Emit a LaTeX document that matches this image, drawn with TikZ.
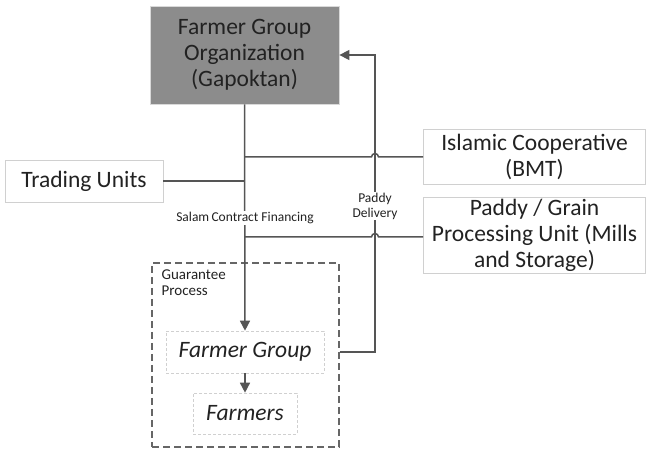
\documentclass[tikz,border=0pt]{standalone}
\usepackage{fontspec}
\setmainfont{Carlito}
\usetikzlibrary{arrows.meta,calc}
\definecolor{linec}{HTML}{555555}
\definecolor{boxc}{HTML}{D0D0D0}
\definecolor{gapfill}{HTML}{8C8C8C}
\definecolor{txt}{HTML}{222222}
\tikzset{
  x=1pt,y=-1pt,
  every node/.style={text=txt},
  plainbox/.style={draw=boxc,line width=0.8pt,fill=white,align=center,inner sep=2pt,
    font=\fontsize{23.5}{26}\selectfont},
  innerbox/.style={draw=boxc,densely dashed,line width=0.6pt,align=center,inner sep=2pt,
    font=\fontsize{23.5}{26}\selectfont\itshape},
  conn/.style={draw=linec,line width=1.5pt},
  arr/.style={conn,-{Triangle[length=10pt,width=10pt]}},
  smalllabel/.style={fill=white,inner sep=1pt,align=center,font=\fontsize{13.5}{15}\selectfont},
}
\begin{document}
\begin{tikzpicture}
\useasboundingbox (0,0) rectangle (646,449);
% boxes
\node[plainbox,draw=boxc!80,fill=gapfill,minimum width=189pt,minimum height=98pt] (gap) at (244.5,55)
  {Farmer Group\\Organization\\(Gapoktan)};
\node[plainbox,minimum width=158pt,minimum height=42pt] (trade) at (84,181) {Trading Units};
\node[plainbox,minimum width=222pt,minimum height=55pt] (bmt) at (534.5,156.5) {Islamic Cooperative\\(BMT)};
\node[plainbox,minimum width=222pt,minimum height=73pt] (mill) at (534.5,235.5)
  {Paddy / Grain\\Processing Unit (Mills\\and Storage)};
\node[draw=linec!90,dashed,dash pattern=on 7pt off 4pt,line width=1.2pt,minimum width=187pt,minimum height=184pt] (guar) at (245.5,355) {};
\node[anchor=north west,align=left,inner sep=0pt,font=\fontsize{15}{16}\selectfont] (guartxt)
  at ($(guar.north west)+(10,7)$) {Guarantee\\Process};
\node[innerbox,minimum width=158pt,minimum height=42pt] (fg) at (245,352) {Farmer Group};
\node[innerbox,minimum width=104pt,minimum height=41pt] (fm) at (245,413.5) {Farmers};
% junctions
\coordinate (j1) at (gap.south |- 0,157);
\coordinate (j2) at (gap.south |- trade.east);
\coordinate (j3) at (gap.south |- 0,237);
\coordinate (pdbot) at (375,352);
\coordinate (pdtop) at (375,55);
\coordinate (pdstart) at (guar.east |- fg.center);
% main flow
\draw[arr] (gap.south) -- (fg.north);
\draw[arr] (fg.south) -- (fm.north);
\draw[conn] (trade.east) -- (j2);
\draw[conn] (j1) -- ($(pdtop |- j1)+(-3.5,0)$) arc[start angle=180,end angle=360,radius=3.5] -- (bmt.west |- j1);
\draw[conn] (j3) -- ($(pdtop |- j3)+(-3.5,0)$) arc[start angle=180,end angle=360,radius=3.5] -- (mill.west |- j3);
% paddy delivery
\draw[arr] (pdstart) -- (pdbot) -- (pdtop) -- (gap.east);
% labels
\node[smalllabel] (salam) at (245,218) {Salam\,Contract Financing};
\node[smalllabel] (pdl) at (375,206) {Paddy\\Delivery};
\end{tikzpicture}
\end{document}
